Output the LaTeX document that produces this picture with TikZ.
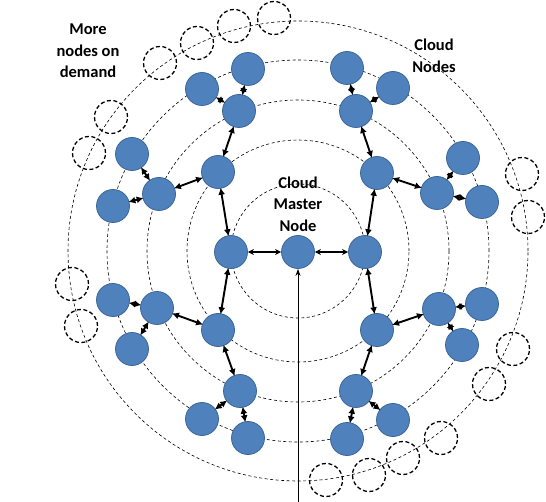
\documentclass[tikz,border=0pt]{standalone}
\usepackage{fontspec}
\setmainfont{Carlito}
\usetikzlibrary{arrows.meta}
\tikzset{
  cnode/.style={circle,fill=blue1,draw=blue2,line width=0.8pt,minimum size=33pt,inner sep=0pt},
  enode/.style={circle,draw=black,line width=1.3pt,dash pattern=on 4pt off 2.5pt,minimum size=33pt,inner sep=0pt},
  ring/.style={draw=black,line width=0.6pt,dash pattern=on 3pt off 2.5pt},
  link/.style={line width=1.9pt,{Latex[length=7pt,width=7pt]}-{Latex[length=7pt,width=7pt]},shorten <=-1pt,shorten >=-1pt},
  mlink/.style={line width=1.1pt,{Stealth[length=6pt,width=6pt]}-{Stealth[length=6pt,width=6pt]}},
  lbl/.style={font=\bfseries\fontsize{16.5}{21.5}\selectfont,align=center,text=black}
}
\definecolor{blue1}{HTML}{4F81BD}
\definecolor{blue2}{HTML}{3B6797}
\begin{document}
\begin{tikzpicture}[x=1pt,y=-1pt]
\useasboundingbox (0,0) rectangle (546,502);
\fill[white] (0,0) rectangle (546,502);
\coordinate (c) at (298,251);
\foreach \r in {67,111,151,191,230} \draw[ring] (c) circle[radius=\r pt];
% empty nodes
\node[enode] (e1) at (160,63) {};
\node[enode] (e2) at (197,43) {};
\node[enode] (e3) at (234,26) {};
\node[enode] (e4) at (274,18) {};
\node[enode] (e5) at (111,117) {};
\node[enode] (e6) at (89,153) {};
\node[enode] (e7) at (522,174) {};
\node[enode] (e8) at (528,217) {};
\node[enode] (e9) at (72,284) {};
\node[enode] (e10) at (81,326) {};
\node[enode] (e11) at (513,349) {};
\node[enode] (e12) at (489,384) {};
\node[enode] (e13) at (441,438) {};
\node[enode] (e14) at (403,458) {};
\node[enode] (e15) at (369,475) {};
\node[enode] (e16) at (326,480) {};
% cloud nodes
\node[cnode] (m) at (298,252) {};
\node[cnode] (l) at (231,252) {};
\node[cnode] (r) at (365,252) {};
\node[cnode] (a1) at (218,172) {};
\node[cnode] (a2) at (377,173) {};
\node[cnode] (a3) at (218,330) {};
\node[cnode] (a4) at (377,330) {};
\node[cnode] (b1) at (239,111) {};
\node[cnode] (b2) at (159,194) {};
\node[cnode] (b3) at (356,111) {};
\node[cnode] (b4) at (437,193) {};
\node[cnode] (b5) at (157,308) {};
\node[cnode] (b6) at (240,391) {};
\node[cnode] (b7) at (439,309) {};
\node[cnode] (b8) at (356,391) {};
\node[cnode] (c1) at (202,89) {};
\node[cnode] (c2) at (248,69) {};
\node[cnode] (c3) at (132,154) {};
\node[cnode] (c4) at (113,206) {};
\node[cnode] (c5) at (347,68) {};
\node[cnode] (c6) at (393,88) {};
\node[cnode] (c7) at (463,158) {};
\node[cnode] (c8) at (482,202) {};
\node[cnode] (c9) at (113,300) {};
\node[cnode] (c10) at (132,349) {};
\node[cnode] (c11) at (202,419) {};
\node[cnode] (c12) at (248,438) {};
\node[cnode] (c13) at (482,304) {};
\node[cnode] (c14) at (462,345) {};
\node[cnode] (c15) at (347,439) {};
\node[cnode] (c16) at (393,420) {};
% links
\draw[mlink] (m) -- (l);
\draw[mlink] (m) -- (r);
\draw[link] (l) -- (a1);
\draw[link] (l) -- (a3);
\draw[link] (r) -- (a2);
\draw[link] (r) -- (a4);
\draw[link] (a1) -- (b1);
\draw[link] (a1) -- (b2);
\draw[link] (a2) -- (b3);
\draw[link] (a2) -- (b4);
\draw[link] (a3) -- (b5);
\draw[link] (a3) -- (b6);
\draw[link] (a4) -- (b7);
\draw[link] (a4) -- (b8);
\draw[link] (b1) -- (c1);
\draw[link] (b1) -- (c2);
\draw[link] (b2) -- (c3);
\draw[link] (b2) -- (c4);
\draw[link] (b3) -- (c5);
\draw[link] (b3) -- (c6);
\draw[link] (b4) -- (c7);
\draw[link] (b4) -- (c8);
\draw[link] (b5) -- (c9);
\draw[link] (b5) -- (c10);
\draw[link] (b6) -- (c11);
\draw[link] (b6) -- (c12);
\draw[link] (b7) -- (c13);
\draw[link] (b7) -- (c14);
\draw[link] (b8) -- (c15);
\draw[link] (b8) -- (c16);
% input line
\coordinate (in) at (298,502);
\draw[line width=0.8pt,-{Stealth[length=7pt,width=5pt]}] (in) -- (m);
% labels
\node[lbl] (t1) at (88,51) {More\\nodes on\\demand};
\node[lbl] (t2) at (434,56) {Cloud\\Nodes};
\node[lbl] (t3) at (298,204) {Cloud\\Master\\Node};
\end{tikzpicture}
\end{document}
